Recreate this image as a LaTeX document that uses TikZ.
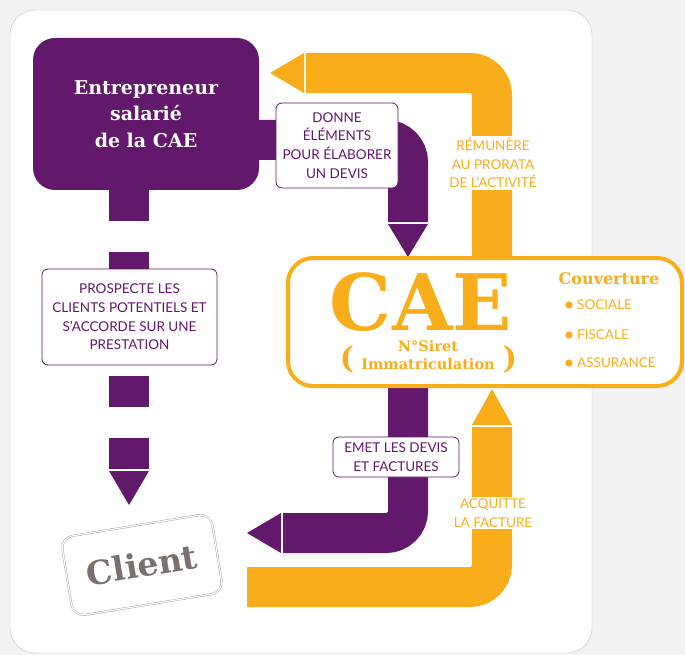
\documentclass[tikz,border=0pt]{standalone}
\usepackage{fontspec}
\setmainfont{Lato}
\newfontfamily\slab{DejaVu Serif}
\usepackage{xcolor}
\usepackage{tikz}
\usetikzlibrary{positioning}
\pgfdeclarelayer{back}
\pgfdeclarelayer{background}
\pgfsetlayers{back,background,main}
\definecolor{cpurple}{HTML}{62186B}
\definecolor{corange}{HTML}{F9AD1A}
\definecolor{cgray}{HTML}{7A706C}
\definecolor{cbg}{HTML}{F3F3F3}

\begin{document}
\begin{tikzpicture}[x=1pt,y=-1pt,
    pbar/.style={draw=cpurple,line width=40pt,rounded corners=22pt},
    obar/.style={draw=corange,line width=40pt,rounded corners=22pt},
    plabel/.style={draw=cpurple,fill=white,rounded corners=6pt,line width=0.8pt,text=cpurple,align=center,inner sep=0pt,font=\fontsize{13.5}{18.7}\selectfont},
    olabel/.style={fill=white,text=corange,align=center,inner sep=2pt,font=\fontsize{13.5}{18.7}\selectfont},
    caetext/.style={text=corange,inner sep=0pt,text depth=0pt,font=\slab\bfseries\fontsize{#1}{#1}\selectfont},
    bullet/.style={text=corange,inner sep=0pt,anchor=west,font=\fontsize{13.5}{16}\selectfont}]
        \useasboundingbox (0,0) rectangle (685,655);
        \begin{pgfonlayer}{back}
        \fill[cbg] (0,0) rectangle (685,655);
        \filldraw[fill=white,draw=black!25,rounded corners=25pt] (10,10) rectangle (592,653);
        \end{pgfonlayer}
        \node[fill=cpurple,rounded corners=22pt,minimum width=226pt,minimum height=152pt,text=white,align=center,
              font=\slab\bfseries\fontsize{19}{26.5}\selectfont] (E) at (146,114) {Entrepreneur\\salarié\\de la CAE};
        \node[plabel,minimum width=122pt,minimum height=85pt] (D) at (337,145.5) {DONNE\\ÉLÉMENTS\\POUR ÉLABORER\\UN DEVIS};
        \node[plabel,minimum width=175pt,minimum height=96pt] (P) at (129.5,317) {PROSPECTE LES\\CLIENTS POTENTIELS ET\\S’ACCORDE SUR UNE\\PRESTATION};
        \node[plabel,minimum width=126pt,minimum height=40pt] (M) at (396,457) {EMET LES DEVIS\\ET FACTURES};
        \node[draw=corange,fill=white,line width=4pt,rounded corners=25pt,minimum width=394pt,minimum height=128pt] (CAE) at (485,322) {};
        \node[caetext=78] (T) at (421,302) {CAE};
        \node[caetext=14,align=center,font=\slab\bfseries\fontsize{14.5}{18.5}\selectfont] (S) at (428,355) {N°Siret\\Immatriculation};
        \node[caetext=30] (L) at (347,357) {(};
        \node[caetext=30] (Rp) at (510,357) {)};
        \node[caetext=16] (V) at (609,279) {Couverture};
        \node[bullet] (B1) at (577,305) {SOCIALE};
        \node[bullet] (B2) at (577,335) {FISCALE};
        \node[bullet] (B3) at (577,363) {ASSURANCE};
        \foreach \b in {B1,B2,B3}
            \fill[corange] ([xshift=-8pt]\b.west) circle (3.6pt);
        \node[olabel] (R) at (493,163) {RÉMUNÈRE\\AU PRORATA\\DE L’ACTIVITÉ};
        \node[olabel] (A) at (493,513) {ACQUITTE\\LA FACTURE};
        \node[draw=cgray!70,double=white,double distance=1.2pt,fill=white,rounded corners=12pt,rotate=9.3,
              minimum width=152pt,minimum height=80pt,text=cgray,font=\slab\bfseries\fontsize{33}{33}\selectfont] (Cl) at (142,565) {Client};
        \begin{pgfonlayer}{background}
        \draw[pbar] (E.east |- 0,140) -- (408,140) -- (408,222);
        \fill[cpurple] (388,224) -- (428,224) -- (408,257) -- cycle;
        \draw[draw=cpurple,line width=40pt,dash pattern=on 31pt off 31pt] (E.south -| 129,0) -- (129,469);
        \fill[cpurple] (109,471) -- (149,471) -- (129,505) -- cycle;
        \draw[pbar] (CAE.south -| 408,0) -- (408,533) -- (283,533);
        \fill[cpurple] (281,513) -- (281,553) -- (247,533) -- cycle;
        \draw[obar] (CAE.north -| 492,0) -- (492,73) -- (306,73);
        \fill[corange] (304,53) -- (304,93) -- (270,73) -- cycle;
        \draw[obar] (247,587) -- (492,587) -- (492,427);
        \fill[corange] (472,425) -- (512,425) -- (492,389) -- cycle;
        \end{pgfonlayer}
\end{tikzpicture}
\end{document}
